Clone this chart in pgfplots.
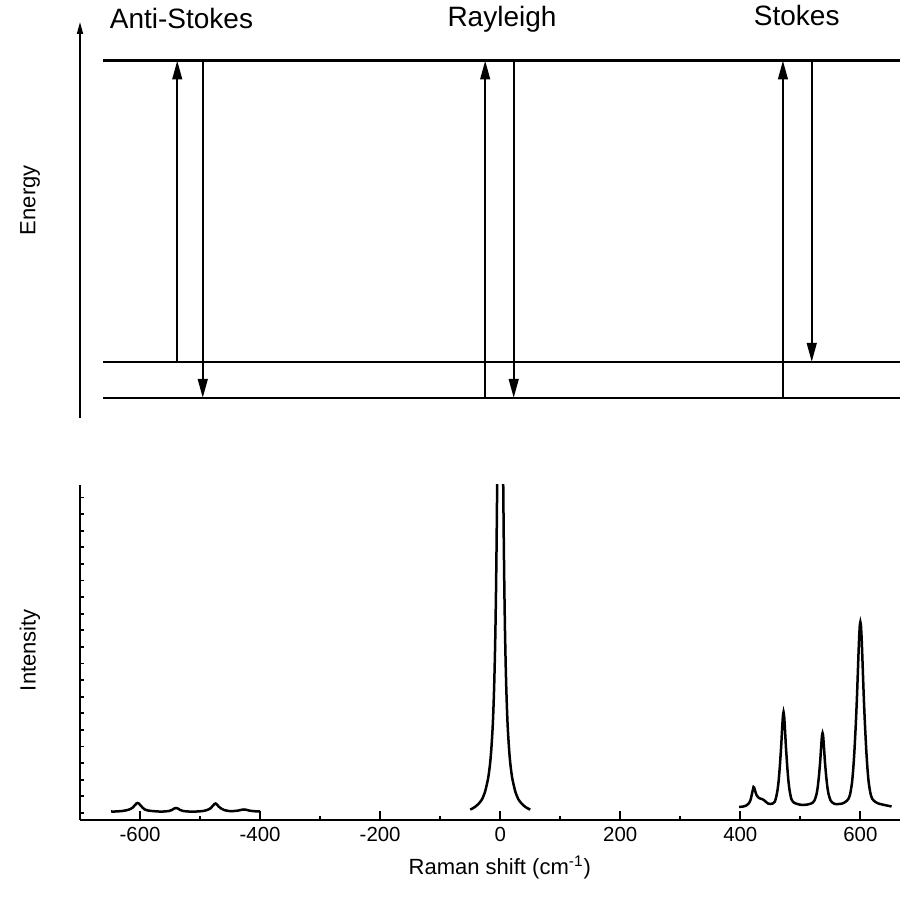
\documentclass[border=0pt]{standalone}
\usepackage{fontspec}
\setmainfont{Liberation Sans}
\usepackage{pgfplots}
\pgfplotsset{compat=1.18}
\usetikzlibrary{arrows.meta}

\begin{document}
\begin{tikzpicture}
\path[use as bounding box] (-40pt,-39pt) rectangle (410pt,410pt);
% ---------------- Raman spectrum ----------------
\begin{axis}[
  at={(0pt,0pt)}, anchor=south west,
  scale only axis, width=410pt, height=167.5pt,
  xmin=-700, xmax=666, ymin=0, ymax=335,
  axis x line*=bottom, axis y line*=left,
  axis line style={line width=1.1pt},
  tick align=inside,
  xtick={-600,-400,...,600}, minor xtick={-500,-300,...,500},
  ytick={7,23.6,...,330}, yticklabels={},
  major tick length=4.5pt, minor tick length=2.2pt,
  ytick style={/pgfplots/major tick length=1.8pt},
  every tick/.style={black, line width=0.9pt},
  /pgf/number format/assume math mode=true,
  xticklabel style={font=\fontsize{10.2}{12}\selectfont},
  xlabel={Raman shift (cm\textsuperscript{-1})},
  ylabel={Intensity},
  every axis x label/.style={at={(axis description cs:0.512,-0.143)}, anchor=center, font=\fontsize{11}{13}\selectfont},
  every axis y label/.style={at={(axis description cs:-0.061,0.507)}, anchor=center, rotate=90, font=\fontsize{11}{13}\selectfont},
]
% anti-Stokes
\addplot[black, line width=1.25pt, smooth, tension=0.4] coordinates {
(-648,8.5) (-640,8.5) (-630,9) (-622,9.8) (-616,11) (-612,12.5) (-609,14.5) (-606,16.5) (-604,17) (-602,16.5) (-599,14.5) (-596,12.5) (-592,10.5) (-587,9.5) (-580,9) (-570,8.5) (-560,8.5) (-552,9) (-547,10) (-543,11.5) (-540,12) (-537,11.5) (-533,10) (-528,9) (-520,8.5) (-505,8.5) (-495,9) (-488,10) (-483,11.5) (-479,14) (-476,16) (-474,16.5) (-472,15.5) (-469,13.5) (-465,11.5) (-460,10) (-452,9) (-443,9) (-436,9.5) (-430,10.3) (-427,10.5) (-423,10.2) (-417,9.3) (-410,8.8) (-400,8.5)
};
% Rayleigh
\addplot[black, line width=1.25pt, smooth, tension=0.4] coordinates {
(-50,10.4) (-45,11.9) (-40,14) (-35,16.9) (-30,21) (-25,28.8) (-20,42) (-17,55.6) (-15,69) (-13,87.8) (-12,100) (-11,115.8) (-10,135) (-9,158.9) (-8,189) (-7,227.6) (-6,277) (-5,339) (-4,417) (-3,503) (-2,600) (-1,675) (0,704)
(1,675) (2,600) (3,503) (4,417) (5,339) (6,277) (7,227.6) (8,189) (9,158.9) (10,135) (11,115.8) (12,100) (13,87.8) (15,69) (17,55.6) (20,42) (25,28.8) (30,21) (35,16.9) (40,14) (45,11.9) (50,10.4)
};
% Stokes
\addplot[black, line width=1.25pt, smooth, tension=0.4] coordinates {
(398,13) (405,13.5) (410,14.5) (414,16.5) (417,20) (419,25) (421,30.5) (422,33) (423,32.5) (425,28.5) (427,25) (430,22.5) (433,21.5) (436,21) (439,20) (442,18.5) (446,16.5) (450,16) (454,16.5) (457,18) (459,21)
(462,30) (464,40) (466,55) (467,64) (468,73) (469,84) (470,95) (471,104) (472,108) (473,104) (474,95) (475,84) (476,73) (477,64) (478,55) (480,40) (482,30) (485,21) (489,17.5) (495,16) (503,15) (512,15.5) (518,16.5)
(521,17.5) (524,20) (527,26) (529,33) (531,44) (532,51) (533,58) (534,67) (535,76) (536,84) (537,87) (538,84) (539,76) (540,67) (541,58) (542,51) (543,44) (545,33) (547,26) (550,20) (554,17) (558,16) (564,16) (570,16.5) (575,18) (580,21) (583,26) (586,37) (588,50) (590,68) (592,91) (593,104) (594,118) (595,134) (596,151) (597,168) (598,183) (599,194) (600,198)
(601,194) (602,183) (603,168) (604,151) (605,134) (606,118) (607,104) (608,91) (610,68) (612,50) (614,37) (617,26) (620,21) (625,18) (630,16.5) (640,15) (652,13.5)
};
\end{axis}
% ---------------- Energy diagram ----------------
\begin{axis}[
  at={(0pt,201pt)}, anchor=south west,
  scale only axis, width=410pt, height=198pt,
  xmin=-700, xmax=666, ymin=480, ymax=876,
  axis x line=none, axis y line*=left,
  y axis line style={line width=0.85pt, -{Triangle[length=6pt,width=3pt]}},
  xtick=\empty, ytick=\empty, clip=false,
  ylabel={Energy},
  every axis y label/.style={at={(axis description cs:-0.061,0.55)}, anchor=center, rotate=90, font=\fontsize{11}{13}\selectfont},
]
% levels
\addplot[black, line width=1.4pt] coordinates {(-662,837.5) (666,837.5)};
\addplot[black, line width=1.4pt] coordinates {(-662,536) (666,536)};
\addplot[black, line width=1.4pt] coordinates {(-662,500) (666,500)};
% transitions
\addplot[black, line width=1.2pt, -{Triangle[length=9.5pt,width=4.8pt]}] coordinates {(-538,536) (-538,837.5)};
\addplot[black, line width=1.2pt, -{Triangle[length=9.5pt,width=4.8pt]}] coordinates {(-495.5,837.5) (-495.5,500)};
\addplot[black, line width=1.2pt, -{Triangle[length=9.5pt,width=4.8pt]}] coordinates {(-25,500) (-25,837.5)};
\addplot[black, line width=1.2pt, -{Triangle[length=9.5pt,width=4.8pt]}] coordinates {(22.5,837.5) (22.5,500)};
\addplot[black, line width=1.2pt, -{Triangle[length=9.5pt,width=4.8pt]}] coordinates {(471,500) (471,837.5)};
\addplot[black, line width=1.2pt, -{Triangle[length=9.5pt,width=4.8pt]}] coordinates {(519,837.5) (519,536)};
\node[anchor=base, font=\fontsize{14}{16}\selectfont] at (axis cs:-531,869) {Anti-Stokes};
\node[anchor=base, font=\fontsize{14}{16}\selectfont] at (axis cs:3,871) {Rayleigh};
\node[anchor=base, font=\fontsize{14}{16}\selectfont] at (axis cs:494,872) {Stokes};
\end{axis}
\end{tikzpicture}
\end{document}
